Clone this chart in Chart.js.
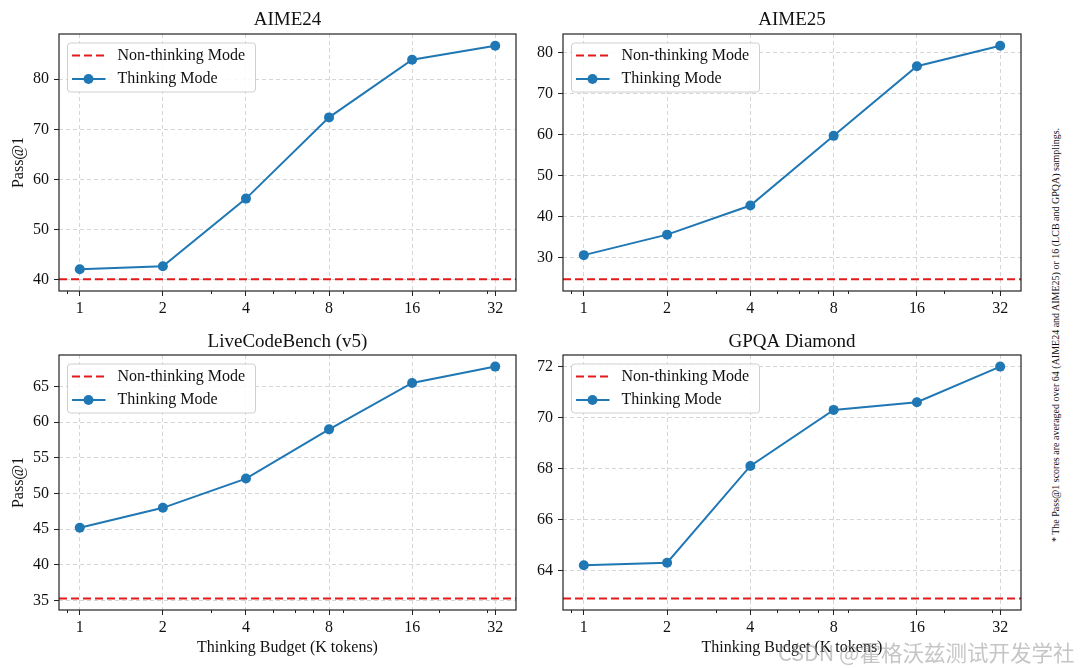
<!DOCTYPE html>
<html>
<head>
<meta charset="utf-8">
<script src="https://cdn.jsdelivr.net/npm/chart.js@4.4.1/dist/chart.umd.min.js"></script>
<style>
  body { margin: 0; background: #fff; }
  #page { position: relative; width: 1080px; height: 669px; overflow: hidden; background: #fff; }
  canvas { position: absolute; }
  #note {
    position: absolute; left: 1055px; top: 335px; white-space: nowrap;
    font-family: "Liberation Serif", serif; font-size: 10px; color: #111;
    transform: translate(-50%, -50%) rotate(-90deg);
  }
  #mark {
    position: absolute; left: 778px; top: 636px; white-space: nowrap;
    font-family: "Noto Sans CJK SC", sans-serif; font-size: 21.5px; color: rgba(150,150,150,0.55);
  }
</style>
</head>
<body>
<div id="page">
  <canvas id="c1" width="540" height="322" style="left:0;top:0"></canvas>
  <canvas id="c2" width="510" height="322" style="left:530px;top:0"></canvas>
  <canvas id="c3" width="540" height="347" style="left:0;top:322px"></canvas>
  <canvas id="c4" width="510" height="347" style="left:530px;top:322px"></canvas>
  <div id="note">* The Pass@1 scores are averaged over 64 (AIME24 and AIME25) or 16 (LCB and GPQA) samplings.</div>
  <div id="mark">CSDN @霍格沃兹测试开发学社</div>
</div>
<script>
// data
const budgets = [1, 2, 4, 8, 16, 32];
const xTickLabels = ['1', '2', '4', '8', '16', '32'];
const minorTicks = [0.9, 3, 5, 6, 7, 9, 20, 30];

const aime24Thinking = [42.1, 42.7, 56.2, 72.4, 83.9, 86.7];
const aime24NonThinking = 40.1;
const aime24Ticks = [40, 50, 60, 70, 80];

const aime25Thinking = [30.6, 35.6, 42.7, 59.7, 76.7, 81.7];
const aime25NonThinking = 24.7;
const aime25Ticks = [30, 40, 50, 60, 70, 80];

const lcbThinking = [45.2, 48.0, 52.1, 59.0, 65.5, 67.8];
const lcbNonThinking = 35.3;
const lcbTicks = [35, 40, 45, 50, 55, 60, 65];

const gpqaThinking = [64.2, 64.3, 68.1, 70.3, 70.6, 72.0];
const gpqaNonThinking = 62.9;
const gpqaTicks = [64, 66, 68, 70, 72];

const SERIF = '"Liberation Serif", "Times New Roman", serif';
const RED = '#e31a1c';
const BLUE = '#1f77b4';
const GRID = '#d6d6d6';
const X_MIN = Math.pow(2, -0.25), X_MAX = Math.pow(2, 5.25);

// frame, minor ticks and legend box drawn on top
const decor = {
  id: 'decor',
  afterDraw(chart) {
    const ca = chart.chartArea, ctx = chart.ctx, xs = chart.scales.x;
    ctx.save();
    ctx.strokeStyle = '#222';
    ctx.lineWidth = 1;
    minorTicks.forEach(v => {
      const px = Math.round(xs.getPixelForValue(v)) + 0.5;
      if (px < ca.left || px > ca.right) return;
      ctx.beginPath();
      ctx.moveTo(px, ca.bottom);
      ctx.lineTo(px, ca.bottom + 3);
      ctx.stroke();
    });
    ctx.lineWidth = 1.2;
    ctx.strokeRect(ca.left, ca.top, ca.right - ca.left, ca.bottom - ca.top);

    // legend
    const bx = ca.left + 8.5, by = ca.top + 9, bw = 188, bh = 49;
    ctx.beginPath();
    if (ctx.roundRect) ctx.roundRect(bx, by, bw, bh, 3); else ctx.rect(bx, by, bw, bh);
    ctx.fillStyle = 'rgba(255,255,255,0.85)';
    ctx.fill();
    ctx.strokeStyle = '#cfcfcf';
    ctx.lineWidth = 1;
    ctx.stroke();

    const r1 = by + 12.5, r2 = by + 36;
    ctx.strokeStyle = RED;
    ctx.lineWidth = 2;
    ctx.setLineDash([8, 4]);
    ctx.beginPath(); ctx.moveTo(bx + 4.5, r1); ctx.lineTo(bx + 38, r1); ctx.stroke();
    ctx.setLineDash([]);
    ctx.strokeStyle = BLUE;
    ctx.beginPath(); ctx.moveTo(bx + 4.5, r2); ctx.lineTo(bx + 38, r2); ctx.stroke();
    ctx.fillStyle = BLUE;
    ctx.beginPath(); ctx.arc(bx + 21, r2, 5, 0, Math.PI * 2); ctx.fill();

    ctx.fillStyle = '#111';
    ctx.font = '16px ' + SERIF;
    ctx.textBaseline = 'middle';
    ctx.textAlign = 'left';
    chart.data.datasets.forEach((ds, i) => ctx.fillText(ds.label, bx + 50, i === 0 ? r1 : r2));
    ctx.restore();
  }
};

function makeChart(id, title, thinking, nonThinking, yTicks, o) {
  const all = thinking.concat([nonThinking]);
  const lo = Math.min(...all), hi = Math.max(...all), pad = (hi - lo) * 0.05;
  new Chart(document.getElementById(id), {
    type: 'line',
    data: {
      datasets: [{
        label: 'Non-thinking Mode',
        data: [{x: X_MIN, y: nonThinking}, {x: X_MAX, y: nonThinking}],
        borderColor: RED,
        borderWidth: 2,
        borderDash: [8, 4],
        pointRadius: 0
      }, {
        label: 'Thinking Mode',
        data: budgets.map((b, i) => ({x: b, y: thinking[i]})),
        borderColor: BLUE,
        backgroundColor: BLUE,
        borderWidth: 2,
        pointRadius: 5,
        pointBorderWidth: 0,
        pointBackgroundColor: BLUE
      }]
    },
    options: {
      responsive: false,
      animation: false,
      layout: { padding: { right: o.padRight } },
      plugins: {
        legend: { display: false },
        tooltip: { enabled: false },
        title: {
          display: true,
          fullSize: false,
          text: title,
          color: '#111',
          font: { family: SERIF, size: 19, weight: 'normal' },
          padding: { top: o.titleTop, bottom: o.titleBottom }
        }
      },
      scales: {
        x: {
          type: 'logarithmic',
          min: X_MIN,
          max: X_MAX,
          afterBuildTicks: s => { s.ticks = budgets.map(v => ({value: v})); },
          afterFit: s => { s.height = o.xHeight; },
          ticks: {
            autoSkip: false, maxRotation: 0, padding: 3, color: '#111',
            font: { family: SERIF, size: 16 },
            callback: (v, i) => xTickLabels[i]
          },
          grid: { color: GRID, lineWidth: 1, tickLength: 5, tickColor: '#222', tickWidth: 1 },
          border: { display: false, dash: [4, 3] },
          title: o.xTitle ? {
            display: true, text: 'Thinking Budget (K tokens)', color: '#111',
            font: { family: SERIF, size: 16 }, padding: { top: 0, bottom: 11.4 }
          } : { display: false }
        },
        y: {
          min: lo - pad,
          max: hi + pad,
          afterBuildTicks: s => { s.ticks = yTicks.map(v => ({value: v})); },
          afterFit: s => { s.width = o.yWidth; },
          ticks: { padding: 5, color: '#111', font: { family: SERIF, size: 16 } },
          grid: { color: GRID, lineWidth: 1, tickLength: 5, tickColor: '#222', tickWidth: 1 },
          border: { display: false, dash: [4, 3] },
          title: o.yTitle ? {
            display: true, text: 'Pass@1', color: '#111',
            font: { family: SERIF, size: 16 }, padding: { top: 9.4, bottom: 0 }
          } : { display: false }
        }
      }
    },
    plugins: [decor]
  });
}

makeChart('c1', 'AIME24', aime24Thinking, aime24NonThinking, aime24Ticks,
  { padRight: 24, yWidth: 59, xHeight: 31, titleTop: 9, titleBottom: 2.2, yTitle: true, xTitle: false });
makeChart('c2', 'AIME25', aime25Thinking, aime25NonThinking, aime25Ticks,
  { padRight: 19, yWidth: 33, xHeight: 31, titleTop: 9, titleBottom: 2.2, yTitle: false, xTitle: false });
makeChart('c3', 'LiveCodeBench (v5)', lcbThinking, lcbNonThinking, lcbTicks,
  { padRight: 24, yWidth: 59, xHeight: 59, titleTop: 8.3, titleBottom: 1.9, yTitle: true, xTitle: true });
makeChart('c4', 'GPQA Diamond', gpqaThinking, gpqaNonThinking, gpqaTicks,
  { padRight: 19, yWidth: 33, xHeight: 59, titleTop: 8.3, titleBottom: 1.9, yTitle: false, xTitle: true });
</script>
</body>
</html>
